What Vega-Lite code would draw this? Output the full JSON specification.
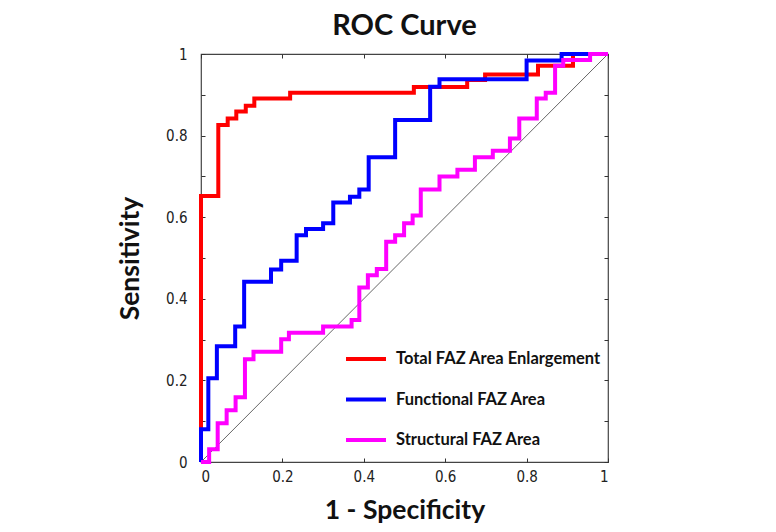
{
  "$schema": "https://vega.github.io/schema/vega-lite/v6.json",
  "autosize": {"type": "none"},
  "padding": {"left": 201, "top": 54, "right": 168, "bottom": 70},
  "width": 407,
  "height": 408,
  "background": "white",
  "title": {"text": "ROC Curve", "font": "Lato", "fontSize": 29, "fontWeight": "bold", "color": "#111", "anchor": "middle", "offset": 5},
  "config": {
    "view": {"stroke": "#444", "strokeWidth": 1.2},
    "axis": {"grid": false, "domain": false, "tickSize": -4, "tickColor": "#333", "tickWidth": 1,
      "labelFont": "Liberation Sans Narrow, DejaVu Sans Condensed, Liberation Sans", "labelFontSize": 15, "labelColor": "#222",
      "titleFont": "Lato", "titleFontSize": 26.5, "titleFontWeight": "bold", "titleColor": "#111"}
  },
  "datasets": {
    "diag": [{"x": 0, "y": 0}, {"x": 1, "y": 1}],
    "roc": [
      {"series": "Total FAZ Area Enlargement", "i": 0, "x": 0, "y": 0},
      {"series": "Total FAZ Area Enlargement", "i": 1, "x": 0, "y": 0.652},
      {"series": "Total FAZ Area Enlargement", "i": 2, "x": 0.0425, "y": 0.826},
      {"series": "Total FAZ Area Enlargement", "i": 3, "x": 0.0656, "y": 0.842},
      {"series": "Total FAZ Area Enlargement", "i": 4, "x": 0.0867, "y": 0.859},
      {"series": "Total FAZ Area Enlargement", "i": 5, "x": 0.11, "y": 0.873},
      {"series": "Total FAZ Area Enlargement", "i": 6, "x": 0.131, "y": 0.891},
      {"series": "Total FAZ Area Enlargement", "i": 7, "x": 0.219, "y": 0.905},
      {"series": "Total FAZ Area Enlargement", "i": 8, "x": 0.523, "y": 0.919},
      {"series": "Total FAZ Area Enlargement", "i": 9, "x": 0.654, "y": 0.936},
      {"series": "Total FAZ Area Enlargement", "i": 10, "x": 0.698, "y": 0.95},
      {"series": "Total FAZ Area Enlargement", "i": 11, "x": 0.828, "y": 0.971},
      {"series": "Total FAZ Area Enlargement", "i": 12, "x": 0.914, "y": 1},
      {"series": "Total FAZ Area Enlargement", "i": 13, "x": 1, "y": 1},
      {"series": "Functional FAZ Area", "i": 0, "x": 0, "y": 0},
      {"series": "Functional FAZ Area", "i": 1, "x": 0, "y": 0.08},
      {"series": "Functional FAZ Area", "i": 2, "x": 0.018, "y": 0.205},
      {"series": "Functional FAZ Area", "i": 3, "x": 0.039, "y": 0.284},
      {"series": "Functional FAZ Area", "i": 4, "x": 0.084, "y": 0.332},
      {"series": "Functional FAZ Area", "i": 5, "x": 0.106, "y": 0.442},
      {"series": "Functional FAZ Area", "i": 6, "x": 0.172, "y": 0.472},
      {"series": "Functional FAZ Area", "i": 7, "x": 0.197, "y": 0.493},
      {"series": "Functional FAZ Area", "i": 8, "x": 0.235, "y": 0.556},
      {"series": "Functional FAZ Area", "i": 9, "x": 0.258, "y": 0.571},
      {"series": "Functional FAZ Area", "i": 10, "x": 0.3, "y": 0.585},
      {"series": "Functional FAZ Area", "i": 11, "x": 0.325, "y": 0.636},
      {"series": "Functional FAZ Area", "i": 12, "x": 0.366, "y": 0.65},
      {"series": "Functional FAZ Area", "i": 13, "x": 0.389, "y": 0.668},
      {"series": "Functional FAZ Area", "i": 14, "x": 0.412, "y": 0.747},
      {"series": "Functional FAZ Area", "i": 15, "x": 0.477, "y": 0.838},
      {"series": "Functional FAZ Area", "i": 16, "x": 0.563, "y": 0.92},
      {"series": "Functional FAZ Area", "i": 17, "x": 0.586, "y": 0.938},
      {"series": "Functional FAZ Area", "i": 18, "x": 0.8, "y": 0.984},
      {"series": "Functional FAZ Area", "i": 19, "x": 0.886, "y": 1},
      {"series": "Functional FAZ Area", "i": 20, "x": 1, "y": 1},
      {"series": "Structural  FAZ Area", "i": 0, "x": 0, "y": 0},
      {"series": "Structural  FAZ Area", "i": 1, "x": 0.02, "y": 0.031},
      {"series": "Structural  FAZ Area", "i": 2, "x": 0.041, "y": 0.095},
      {"series": "Structural  FAZ Area", "i": 3, "x": 0.063, "y": 0.127},
      {"series": "Structural  FAZ Area", "i": 4, "x": 0.085, "y": 0.159},
      {"series": "Structural  FAZ Area", "i": 5, "x": 0.108, "y": 0.252},
      {"series": "Structural  FAZ Area", "i": 6, "x": 0.129, "y": 0.27},
      {"series": "Structural  FAZ Area", "i": 7, "x": 0.197, "y": 0.301},
      {"series": "Structural  FAZ Area", "i": 8, "x": 0.216, "y": 0.317},
      {"series": "Structural  FAZ Area", "i": 9, "x": 0.3, "y": 0.332},
      {"series": "Structural  FAZ Area", "i": 10, "x": 0.37, "y": 0.348},
      {"series": "Structural  FAZ Area", "i": 11, "x": 0.389, "y": 0.428},
      {"series": "Structural  FAZ Area", "i": 12, "x": 0.41, "y": 0.458},
      {"series": "Structural  FAZ Area", "i": 13, "x": 0.432, "y": 0.473},
      {"series": "Structural  FAZ Area", "i": 14, "x": 0.455, "y": 0.54},
      {"series": "Structural  FAZ Area", "i": 15, "x": 0.477, "y": 0.556},
      {"series": "Structural  FAZ Area", "i": 16, "x": 0.499, "y": 0.585},
      {"series": "Structural  FAZ Area", "i": 17, "x": 0.52, "y": 0.604},
      {"series": "Structural  FAZ Area", "i": 18, "x": 0.54, "y": 0.668},
      {"series": "Structural  FAZ Area", "i": 19, "x": 0.586, "y": 0.7},
      {"series": "Structural  FAZ Area", "i": 20, "x": 0.63, "y": 0.716},
      {"series": "Structural  FAZ Area", "i": 21, "x": 0.673, "y": 0.747},
      {"series": "Structural  FAZ Area", "i": 22, "x": 0.717, "y": 0.763},
      {"series": "Structural  FAZ Area", "i": 23, "x": 0.759, "y": 0.793},
      {"series": "Structural  FAZ Area", "i": 24, "x": 0.782, "y": 0.842},
      {"series": "Structural  FAZ Area", "i": 25, "x": 0.825, "y": 0.891},
      {"series": "Structural  FAZ Area", "i": 26, "x": 0.847, "y": 0.905},
      {"series": "Structural  FAZ Area", "i": 27, "x": 0.87, "y": 0.971},
      {"series": "Structural  FAZ Area", "i": 28, "x": 0.89, "y": 0.985},
      {"series": "Structural  FAZ Area", "i": 29, "x": 0.956, "y": 1},
      {"series": "Structural  FAZ Area", "i": 30, "x": 1, "y": 1}
    ]
  },
  "layer": [
    {
      "data": {"name": "diag"},
      "mark": {"type": "line", "color": "#555", "strokeWidth": 0.9, "clip": false},
      "encoding": {
        "x": {"field": "x", "type": "quantitative", "scale": {"domain": [0, 1], "nice": false, "zero": false},
          "axis": {"orient": "top", "values": [0, 0.2, 0.4, 0.6, 0.8, 1], "labels": false, "title": null}},
        "y": {"field": "y", "type": "quantitative", "scale": {"domain": [0, 1], "nice": false, "zero": false},
          "axis": {"orient": "right", "values": [0, 0.1, 0.2, 0.3, 0.4, 0.5, 0.6, 0.7, 0.8, 0.9, 1], "labels": false, "title": null}}
      }
    },
    {
      "data": {"name": "roc"},
      "mark": {"type": "line", "interpolate": "step-after", "strokeWidth": 4, "strokeJoin": "miter", "clip": false},
      "encoding": {
        "x": {"field": "x", "type": "quantitative",
          "axis": {"orient": "bottom", "values": [0, 0.2, 0.4, 0.6, 0.8, 1], "labelExpr": "format(datum.value, '.1~f')", "labelPadding": 11, "title": "1 - Specificity", "titlePadding": 13}},
        "y": {"field": "y", "type": "quantitative",
          "axis": {"orient": "left", "values": [0, 0.1, 0.2, 0.3, 0.4, 0.5, 0.6, 0.7, 0.8, 0.9, 1], "labelExpr": "round(datum.value * 10) % 2 == 0 ? format(datum.value, '.1~f') : ''", "labelPadding": 18, "title": "Sensitivity", "titlePadding": 21}},
        "color": {"field": "series", "type": "nominal",
          "scale": {"domain": ["Total FAZ Area Enlargement", "Functional FAZ Area", "Structural  FAZ Area"], "range": ["#ff0000", "#0000ff", "#ff00ff"]},
          "legend": {"orient": "none", "legendX": 143, "legendY": 283, "title": null, "padding": 0, "rowPadding": 9.5,
            "symbolType": "stroke", "symbolSize": 1600, "symbolStrokeWidth": 4, "labelOffset": 8,
            "labelFont": "Lato", "labelFontSize": 16.5, "labelFontWeight": "bold", "labelColor": "#111", "labelLimit": 300}},
        "order": {"field": "i", "type": "quantitative"}
      }
    }
  ],
  "resolve": {"axis": {"x": "independent", "y": "independent"}}
}
